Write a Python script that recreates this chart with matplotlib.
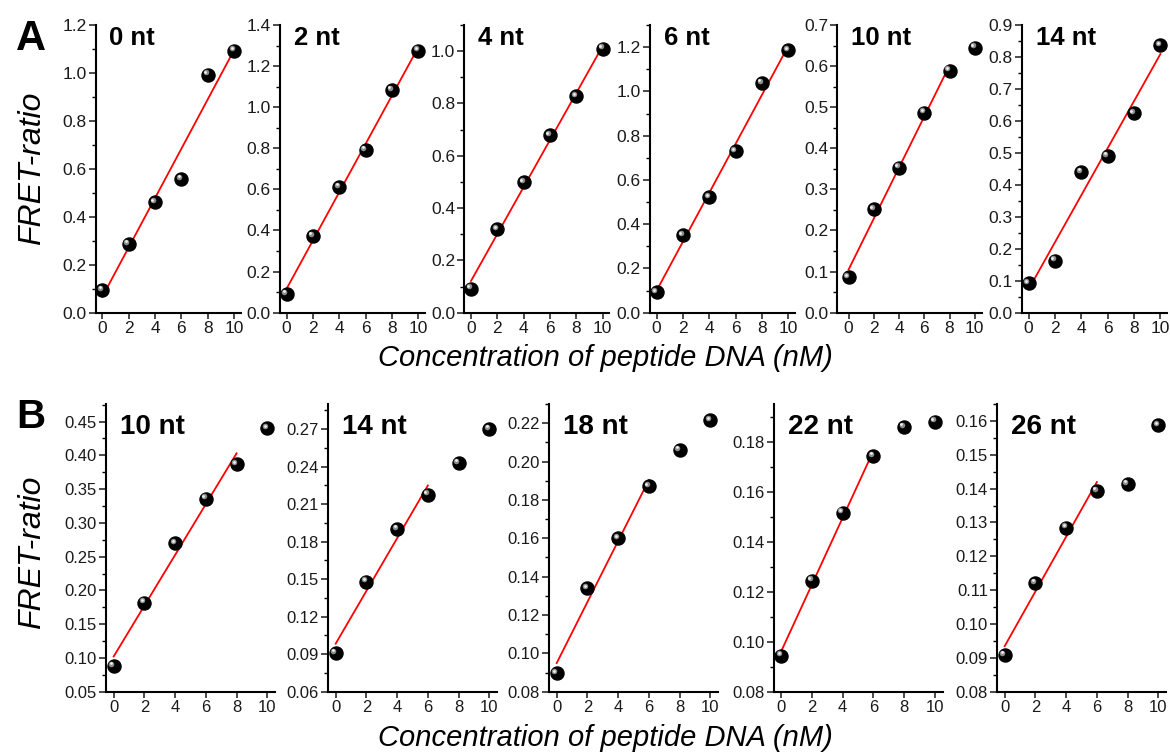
import numpy as np
import matplotlib
matplotlib.use("Agg")
import matplotlib.pyplot as plt
from matplotlib.ticker import MultipleLocator, FormatStrFormatter
from matplotlib.transforms import offset_copy

plt.rcParams['font.family'] = ['Liberation Sans', 'DejaVu Sans']

# Peptide DNA concentration (nM)
conc = [0, 2, 4, 6, 8, 10]

# Panel A: FRET ratio for each spacer length
labels_a = ["0 nt", "2 nt", "4 nt", "6 nt", "10 nt", "14 nt"]
fret_a_0nt = [0.095, 0.287, 0.460, 0.558, 0.993, 1.093]
fret_a_2nt = [0.091, 0.373, 0.613, 0.792, 1.084, 1.275]
fret_a_4nt = [0.092, 0.319, 0.499, 0.678, 0.828, 1.010]
fret_a_6nt = [0.092, 0.350, 0.521, 0.730, 1.039, 1.186]
fret_a_10nt = [0.086, 0.252, 0.353, 0.487, 0.589, 0.645]
fret_a_14nt = [0.092, 0.163, 0.441, 0.491, 0.624, 0.836]
fit_points_a = [6, 6, 6, 6, 5, 6]      # leading points used for the linear fit
ytop_a = [1.2, 1.4, 1.1, 1.3, 0.7, 0.9]
ystep_a = [0.2, 0.2, 0.2, 0.2, 0.1, 0.1]

# Panel B: FRET ratio for longer spacers
labels_b = ["10 nt", "14 nt", "18 nt", "22 nt", "26 nt"]
fret_b_10nt = [0.088, 0.182, 0.270, 0.336, 0.387, 0.440]
fret_b_14nt = [0.091, 0.148, 0.190, 0.2175, 0.243, 0.270]
fret_b_18nt = [0.0896, 0.134, 0.160, 0.187, 0.206, 0.2214]
fret_b_22nt = [0.0944, 0.1244, 0.1516, 0.1743, 0.1858, 0.188]
fret_b_26nt = [0.0909, 0.1121, 0.1285, 0.1393, 0.1414, 0.1587]
fit_points_b = [5, 4, 4, 4, 4]
ybot_b = [0.05, 0.06, 0.08, 0.08, 0.08]
ytop_b = [0.476, 0.29, 0.23, 0.195, 0.165]
ystep_b = [0.05, 0.03, 0.02, 0.02, 0.01]

series_a = [fret_a_0nt, fret_a_2nt, fret_a_4nt, fret_a_6nt, fret_a_10nt, fret_a_14nt]
series_b = [fret_b_10nt, fret_b_14nt, fret_b_18nt, fret_b_22nt, fret_b_26nt]

W, H = 1170, 756
fig = plt.figure(figsize=(W / 100, H / 100), dpi=100)


def px(x, y):
    return x / W, 1 - y / H


def make_axes(left, top, bottom, width):
    l, b = px(left, bottom)
    return fig.add_axes([l, b, width / W, (bottom - top) / H])


def draw_panel(ax, y, nfit, ylo, yhi, step, xlim, fsize, decimals):
    x = np.array(conc, dtype=float)
    y = np.array(y, dtype=float)
    k, c = np.polyfit(x[:nfit], y[:nfit], 1)
    xf = np.array([x[0], x[nfit - 1]])
    ax.plot(xf, k * xf + c, color='#ff0000', lw=1.3, zorder=2)
    # shaded spheres: dark body plus a small offset highlight
    ax.plot(x, y, 'o', ms=9.4, color='black', mec='black', zorder=3, clip_on=False)
    shine = offset_copy(ax.transData, fig=fig, x=-2.2, y=2.2, units='dots')
    ax.plot(x, y, 'o', ms=4.0, color='#8c8c8c', mec='none', transform=shine,
            zorder=4, clip_on=False)
    shine2 = offset_copy(ax.transData, fig=fig, x=-2.6, y=2.6, units='dots')
    ax.plot(x, y, 'o', ms=2.0, color='#f0f0f0', mec='none', transform=shine2,
            zorder=5, clip_on=False)
    ax.set_xlim(*xlim)
    ax.set_ylim(ylo, yhi)
    ax.set_xticks(conc)
    ax.yaxis.set_major_locator(MultipleLocator(step))
    ax.yaxis.set_minor_locator(MultipleLocator(step / 2))
    ax.yaxis.set_major_formatter(FormatStrFormatter('%%.%df' % decimals))
    for s in ('top', 'right'):
        ax.spines[s].set_visible(False)
    for s in ('left', 'bottom'):
        ax.spines[s].set_linewidth(1.5)
    ax.tick_params(axis='y', which='major', direction='out', length=5, width=1.1,
                   pad=1.5, labelsize=fsize, colors='#1a1a1a')
    ax.tick_params(axis='y', which='minor', direction='out', length=2.6, width=1.0)
    ax.tick_params(axis='x', which='major', direction='out', length=4, width=1.1,
                   pad=2.0, labelsize=fsize, colors='#1a1a1a')
    return ax


# Row A layout
lefts_a = [95.7, 280.0, 464.4, 650.0, 837.3, 1022.0]
xlims_a = [(-0.5, 10.5)] * 4 + [(-0.9, 10.6), (-0.5, 10.5)]
for i in range(6):
    ax = make_axes(lefts_a[i], 25, 312.7, 145)
    draw_panel(ax, series_a[i], fit_points_a[i], 0.0, ytop_a[i], ystep_a[i],
               xlims_a[i], 12.5, 1)
    fig.text(*px(lefts_a[i] + 13.5, 45), labels_a[i], fontsize=18.5,
             fontweight='bold', va='baseline', ha='left')

# Row B layout
lefts_b = [106.0, 328.0, 549.0, 773.5, 997.0]
for i in range(5):
    ax = make_axes(lefts_b[i], 404, 691.7, 169)
    draw_panel(ax, series_b[i], fit_points_b[i], ybot_b[i], ytop_b[i], ystep_b[i],
               (-0.5, 10.5), 12, 2)
    fig.text(*px(lefts_b[i] + 14, 434.3), labels_b[i], fontsize=20,
             fontweight='bold', va='baseline', ha='left')

# Panel letters
fig.text(*px(16, 50), "A", fontsize=30, fontweight='bold', va='baseline', ha='left')
fig.text(*px(16, 428), "B", fontsize=29, fontweight='bold', va='baseline', ha='left')

# Axis titles
for yc in (168, 552):
    fig.text(*px(32, yc), "FRET-ratio", fontsize=23, fontstyle='italic',
             rotation=90, va='center', ha='center')
fig.text(*px(605, 366), "Concentration of peptide DNA (nM)", fontsize=21,
         fontstyle='italic', va='baseline', ha='center')
fig.text(*px(605, 746), "Concentration of peptide DNA (nM)", fontsize=21,
         fontstyle='italic', va='baseline', ha='center')

fig.savefig("out.png", dpi=100)
